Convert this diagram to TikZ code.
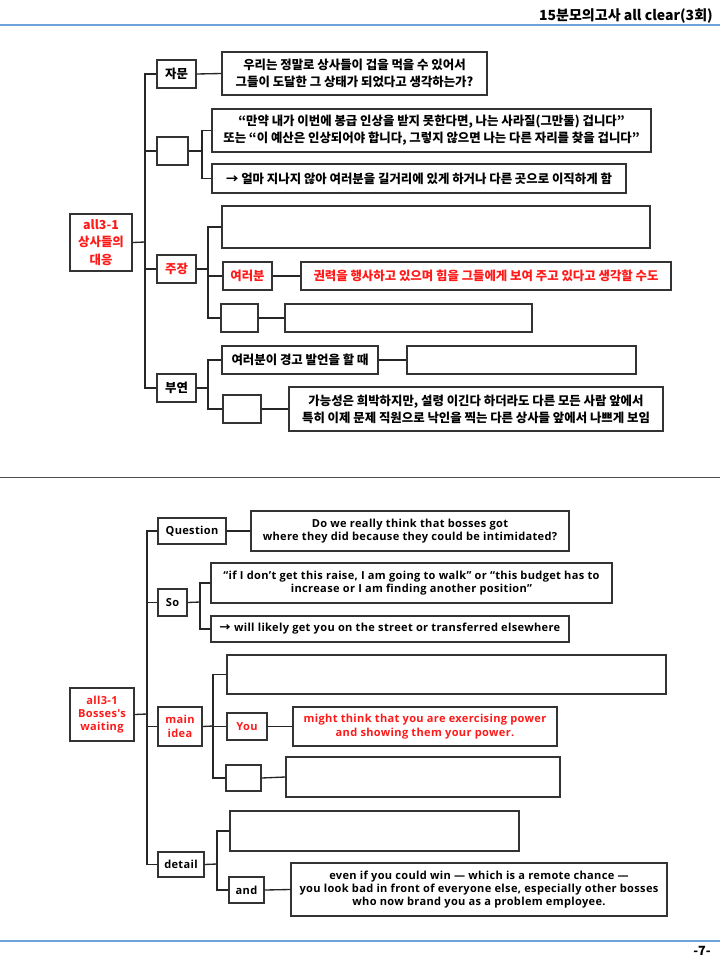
\documentclass[tikz,border=0pt]{standalone}
\usepackage{fontspec}
\newfontfamily\kr{Noto Sans CJK KR}
\newfontfamily\enf{Open Sans}[LetterSpace=3]
\definecolor{boxc}{HTML}{333333}
\definecolor{kred}{HTML}{FF1A1A}
\definecolor{hblue}{HTML}{6FA3DA}
\newcommand{\bx}[7][]{\node[box,#1,minimum width={(#5-#3)*0.75pt},minimum height={(#6-#4)*0.75pt}] (#2) at ({(#3+#5)/2},{(#4+#6)/2}) {#7};}
\tikzset{
  box/.style={draw=boxc, line width=1pt, inner sep=0pt, align=center, text=black,
    font=\kr\bfseries\fontsize{9.3}{12.9}\selectfont},
  en/.style={font=\enf\bfseries\fontsize{8.3}{10}\selectfont},
  redtxt/.style={text=kred},
  conn/.style={draw=black!85, line width=1pt},
}
\begin{document}
\begin{tikzpicture}[x=0.75pt,y=-0.75pt]
\useasboundingbox (0,0) rectangle (720,960);
\fill[white] (0,0) rectangle (720,960);
% header / footer
\node[anchor=base east, inner sep=0pt, font=\kr\bfseries\fontsize{10.5}{12}\selectfont] (hdr) at (713,20) {15분모의고사 all clear(3회)};
\draw[hblue, line width=1.2pt] (0,25) -- (720,25);
\draw[black!70, line width=1pt] (0,477.5) -- (720,477.5);
\draw[hblue, line width=1.2pt] (0,941) -- (720,941);
\node[anchor=base east, inner sep=0pt, font=\kr\bfseries\fontsize{9.5}{11}\selectfont] (pg) at (711,955) {-7-};

% ===== top tree =====
\bx[redtxt]{r1}{70}{214}{132}{271}{all3-1\\상사들의\\대응}
\coordinate (tT) at (145,242);
\bx{ja}{157}{60}{196}{88}{자문}
\bx{jat}{222}{52}{487}{95}{우리는 정말로 상사들이 겁을 먹을 수 있어서\\그들이 도달한 그 상태가 되었다고 생각하는가?}
\bx{je}{157}{137}{188}{165}{}
\coordinate (jE) at (202,151);
\bx{c1}{212}{109}{651}{152}{“만약 내가 이번에 봉급 인상을 받지 못한다면, 나는 사라질(그만둘) 겁니다”\\또는 “이 예산은 인상되어야 합니다, 그렇지 않으면 나는 다른 자리를 찾을 겁니다”}
\bx{c2}{212}{164}{626}{193}{→ 얼마 지나지 않아 여러분을 길거리에 있게 하거나 다른 곳으로 이직하게 함}
\bx[redtxt]{jj}{157}{255}{196}{283}{주장}
\coordinate (jJ) at (208,269);
\bx{jb}{222}{206}{650}{248}{}
\bx[redtxt]{jy}{223}{262}{272}{290}{여러분}
\bx[redtxt]{jyt}{301}{262}{671}{290}{권력을 행사하고 있으며 힘을 그들에게 보여 주고 있다고 생각할 수도}
\bx{js}{221}{304}{258}{332}{}
\bx{jst}{285}{304}{532}{332}{}
\bx{bu}{157}{374}{196}{402}{부연}
\coordinate (jB) at (208,388);
\bx{bw}{222}{346}{378}{374}{여러분이 경고 발언을 할 때}
\bx{bwt}{407}{346}{636}{374}{}
\bx{bs}{223}{395}{261}{423}{}
\bx{bst}{289}{387}{663}{431}{가능성은 희박하지만, 설령 이긴다 하더라도 다른 모든 사람 앞에서\\특히 이제 문제 직원으로 낙인을 찍는 다른 상사들 앞에서 나쁘게 보임}

\draw[conn] (r1.east) -- (tT);
\draw[conn] (ja.west) -| (tT);
\draw[conn] (je.west) -| (tT);
\draw[conn] (jj.west) -| (tT);
\draw[conn] (bu.west) -| (tT);
\draw[conn] (ja.east) -- (jat.west);
\draw[conn] (je.east) -- (jE);
\draw[conn] (c1.west) -| (jE);
\draw[conn] (c2.west) -| (jE);
\draw[conn] (jj.east) -- (jJ);
\draw[conn] (jb.west) -| (jJ);
\draw[conn] (jy.west) -| (jJ);
\draw[conn] (js.west) -| (jJ);
\draw[conn] (jy.east) -- (jyt.west);
\draw[conn] (js.east) -- (jst.west);
\draw[conn] (bu.east) -- (jB);
\draw[conn] (bw.west) -| (jB);
\draw[conn] (bs.west) -| (jB);
\draw[conn] (bw.east) -- (bwt.west);
\draw[conn] (bs.east) -- (bst.west);

% ===== bottom tree =====
\bx[redtxt,en]{r2}{70}{688}{134}{741}{all3-1\\Bosses's\\waiting}
\coordinate (tB) at (147,714);
\bx[en]{q}{158}{518}{226}{544}{Question}
\bx[en]{qt}{251}{511}{569}{551}{Do we really think that bosses got\\where they did because they could be intimidated?}
\bx[en]{so}{158}{589}{187}{616}{So}
\coordinate (jS) at (200,602);
\bx[en]{s1}{211}{563}{612}{603}{“if I don’t get this raise, I am going to walk” or “this budget has to\\increase or I am finding another position”}
\bx[en]{s2}{211}{616}{569}{642}{{\kr →} will likely get you on the street or transferred elsewhere}
\bx[en,redtxt]{mi}{158}{707}{202}{746}{main\\idea}
\coordinate (jM) at (213,726);
\bx{m1}{227}{655}{666}{694}{}
\bx[en,redtxt]{you}{227}{713}{267}{740}{You}
\bx[en,redtxt]{yt}{293}{707}{557}{746}{might think that you are exercising power\\and showing them your power.}
\bx{m3}{226}{765}{261}{791}{}
\bx{m3t}{286}{757}{560}{797}{}
\bx[en]{de}{158}{852}{204}{877}{detail}
\coordinate (jD) at (217,864);
\bx{d1}{230}{811}{519}{851}{}
\bx[en]{and}{229}{877}{264}{903}{and}
\bx[en]{andt}{291}{863}{667}{916}{even if you could win — which is a remote chance —\\you look bad in front of everyone else, especially other bosses\\who now brand you as a problem employee.}

\draw[conn] (r2.east) -- (tB);
\draw[conn] (q.west) -| (tB);
\draw[conn] (so.west) -| (tB);
\draw[conn] (mi.west) -| (tB);
\draw[conn] (de.west) -| (tB);
\draw[conn] (q.east) -- (qt.west);
\draw[conn] (so.east) -- (jS);
\draw[conn] (s1.west) -| (jS);
\draw[conn] (s2.west) -| (jS);
\draw[conn] (mi.east) -- (jM);
\draw[conn] (m1.west) -| (jM);
\draw[conn] (you.west) -| (jM);
\draw[conn] (m3.west) -| (jM);
\draw[conn] (you.east) -- (yt.west);
\draw[conn] (m3.east) -- (m3t.west);
\draw[conn] (de.east) -- (jD);
\draw[conn] (d1.west) -| (jD);
\draw[conn] (and.west) -| (jD);
\draw[conn] (and.east) -- (andt.west);
\end{tikzpicture}
\end{document}
